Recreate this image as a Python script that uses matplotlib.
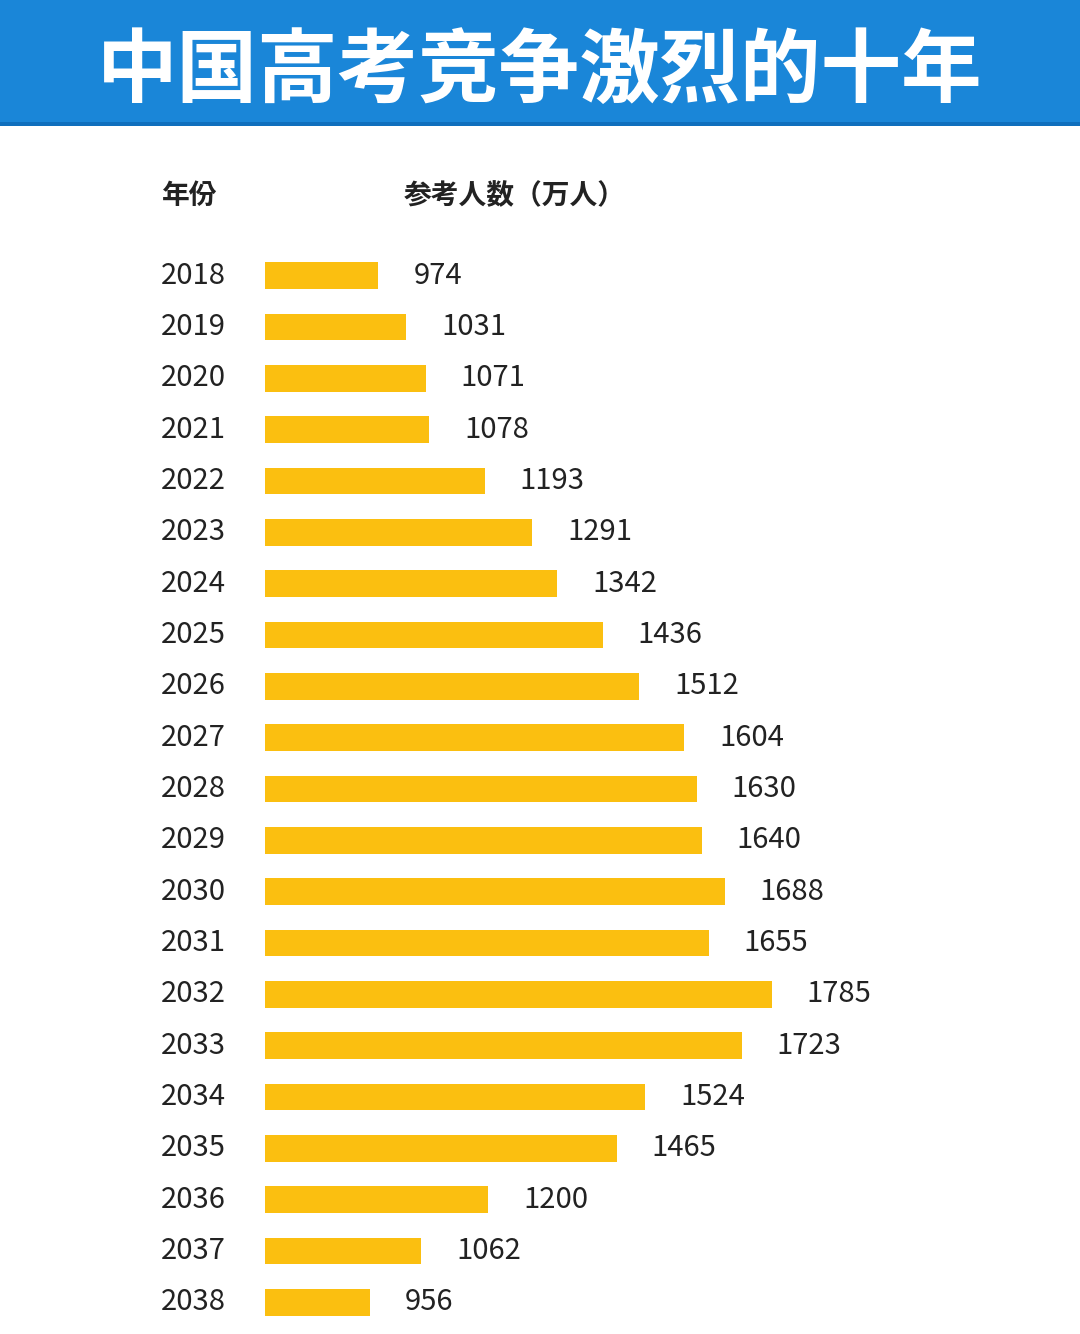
import matplotlib
matplotlib.use("Agg")
import matplotlib.pyplot as plt
from matplotlib import font_manager
from matplotlib.patches import Rectangle
from matplotlib.transforms import blended_transform_factory

# pick whichever CJK family the font manager actually knows about
_names = {f.name for f in font_manager.fontManager.ttflist}
_cjk = [n for n in ["Noto Sans CJK SC", "Noto Sans CJK JP", "Noto Sans CJK TC",
                    "Noto Sans CJK KR", "Noto Sans SC", "Noto Sans CJK"] if n in _names]
if not _cjk:
    _cjk = [n for n in sorted(_names) if "CJK" in n]
plt.rcParams["font.family"] = _cjk + ["DejaVu Sans"]

# ---------------------------------------------------------------------------
# Data
# ---------------------------------------------------------------------------
years = [str(y) for y in range(2018, 2039)]
counts = [974, 1031, 1071, 1078, 1193, 1291, 1342, 1436, 1512, 1604, 1630,
          1640, 1688, 1655, 1785, 1723, 1524, 1465, 1200, 1062, 956]
title = "中国高考竞争激烈的十年"
col_year = "年份"
col_count = "参考人数（万人）"

W, H = 1080, 1334
fig = plt.figure(figsize=(W / 100, H / 100), dpi=100)
fig.patch.set_facecolor("white")

# blue title banner
fig.patches.append(Rectangle((0, 1 - 122 / H), 1, 122 / H, transform=fig.transFigure,
                             facecolor="#1a86d8", edgecolor="none", zorder=0))
fig.patches.append(Rectangle((0, 1 - 126 / H), 1, 4 / H, transform=fig.transFigure,
                             facecolor="#0f6fbd", edgecolor="none", zorder=0))
fig.text(0.5, 1 - 72 / H, title, ha="center", va="center", color="white",
         fontsize=58, fontweight="bold")

# column headers
fig.text(190 / W, 1 - 196 / H, col_year, ha="center", va="center",
         fontsize=20, fontweight="bold", color="#222222")
fig.text(515 / W, 1 - 196 / H, col_count, ha="center", va="center",
         fontsize=20, fontweight="bold", color="#222222")

# bars
ax = fig.add_axes([265 / W, 6 / H, 1 - 265 / W, 1078 / H])
ax.set_xlim(740, 740 + (W - 265) / 0.485)
ax.set_ylim(20.5, -0.5)
ax.axis("off")

idx = list(range(len(years)))
ax.barh(idx, [c - 740 for c in counts], left=740, height=0.52, color="#fbbf10")

gap = 35 / 0.485
for i, (y, c) in enumerate(zip(years, counts)):
    ax.text(c + gap, i, str(c), ha="left", va="center", fontsize=21,
            color="#222222")

trans = blended_transform_factory(fig.transFigure, ax.transData)
for i, y in enumerate(years):
    fig.text(193 / W, i, y, transform=trans, ha="center", va="center",
             fontsize=21, color="#222222")

fig.savefig("out.png", dpi=100)
